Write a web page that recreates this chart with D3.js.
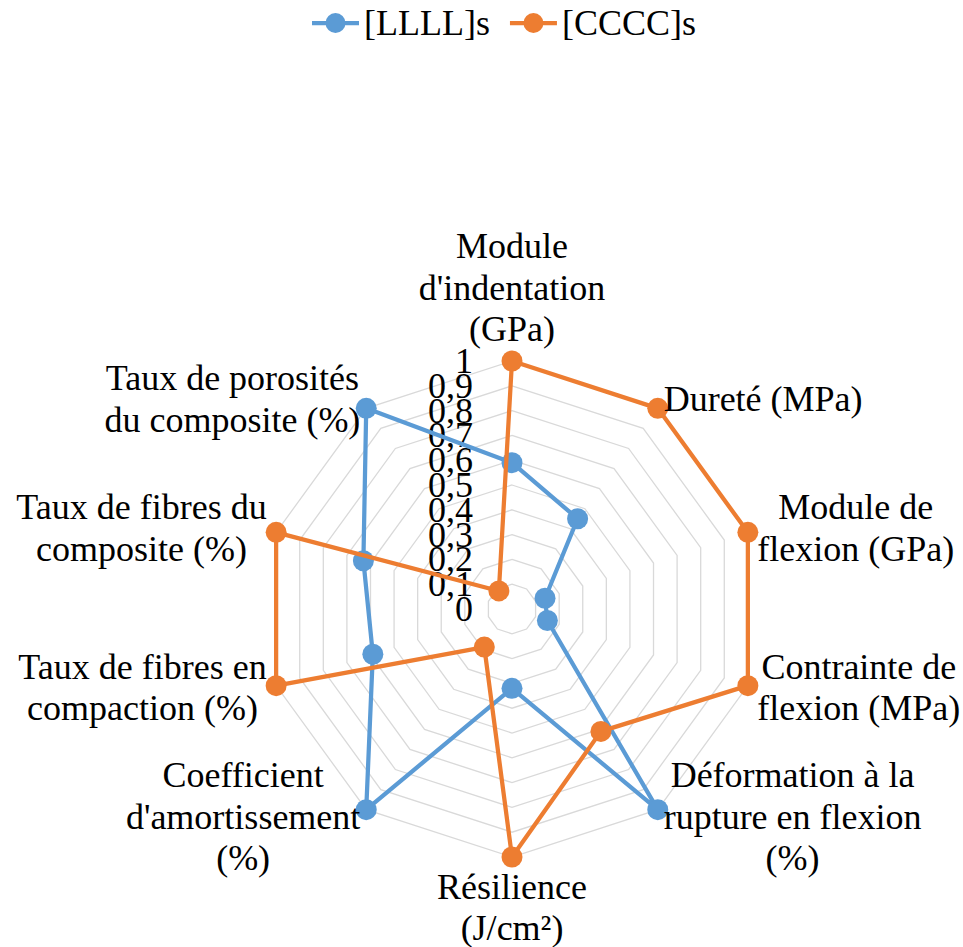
<!DOCTYPE html>
<html>
<head>
<meta charset="utf-8">
<script src="https://cdn.jsdelivr.net/npm/d3@7"></script>
<style>
  html, body { margin: 0; padding: 0; background: #ffffff; }
  svg { display: block; }
</style>
</head>
<body>
<svg id="chart" width="963" height="947"></svg>
<script>
// Axis names (one entry per spoke, lines separated by "\n")
const categories = [
  "Module\nd'indentation\n(GPa)",
  "Dureté (MPa)",
  "Module de\nflexion (GPa)",
  "Contrainte de\nflexion (MPa)",
  "Déformation à la\nrupture en flexion\n(%)",
  "Résilience\n(J/cm²)",
  "Coefficient\nd'amortissement\n(%)",
  "Taux de fibres en\ncompaction (%)",
  "Taux de fibres du\ncomposite (%)",
  "Taux de porosités\ndu composite (%)"
];

// Normalised property values for each laminate
const seriesNames = ["[LLLL]s", "[CCCC]s"];
const valuesLLLL = [0.59, 0.45, 0.14, 0.15, 1.0, 0.32, 1.0, 0.59, 0.63, 1.0];
const valuesCCCC = [1.0, 1.0, 1.0, 1.0, 0.61, 1.0, 0.19, 1.0, 1.0, 0.09];
const seriesColors = ["#5b9bd5", "#ed7d31"];

// Radial axis ticks
const tickValues = [0, 0.1, 0.2, 0.3, 0.4, 0.5, 0.6, 0.7, 0.8, 0.9, 1];
const tickLabels = ["0", "0,1", "0,2", "0,3", "0,4", "0,5", "0,6", "0,7", "0,8", "0,9", "1"];

const FONT_FAMILY = "'Liberation Serif'";

const svg = d3.select("#chart");
const W = 963, H = 947;
svg.append("rect").attr("width", W).attr("height", H).attr("fill", "#fff");

const cx = 512, cy = 609, R = 248;
const FONT = 36, LH = 41.4, ASC = 31.5;

const n = categories.length;
const angle = d3.scaleLinear().domain([0, n]).range([0, 2 * Math.PI]);
const radius = d3.scaleLinear().domain([0, 1]).range([0, R]);

const g = svg.append("g").attr("transform", `translate(${cx},${cy})`);

// Concentric decagon gridlines
const ringLine = d3.lineRadial()
  .angle((d, i) => angle(i))
  .radius(d => radius(d))
  .curve(d3.curveLinearClosed);

g.append("g").selectAll("path")
  .data(tickValues.filter(v => v > 0))
  .join("path")
  .attr("d", v => ringLine(d3.range(n).map(() => v)))
  .attr("fill", "none")
  .attr("stroke", "#d9d9d9")
  .attr("stroke-width", 1.3);

// Radial value labels along the top spoke
g.append("g").selectAll("text")
  .data(tickValues)
  .join("text")
  .attr("x", -39)
  .attr("y", v => -radius(v) + 12)
  .attr("text-anchor", "end")
  .attr("font-family", FONT_FAMILY)
  .attr("font-size", FONT)
  .attr("fill", "#000")
  .text((v, i) => tickLabels[i]);

// Series: polygon outline + markers
const seriesLine = d3.lineRadial()
  .angle((d, i) => angle(i))
  .radius(d => radius(d))
  .curve(d3.curveLinearClosed);

[valuesLLLL, valuesCCCC].forEach((vals, s) => {
  const sg = g.append("g");
  sg.append("path")
    .attr("d", seriesLine(vals))
    .attr("fill", "none")
    .attr("stroke", seriesColors[s])
    .attr("stroke-width", 4.25)
    .attr("stroke-linejoin", "round");
  sg.selectAll("circle")
    .data(vals)
    .join("circle")
    .attr("cx", (d, i) => radius(d) * Math.sin(angle(i)))
    .attr("cy", (d, i) => -radius(d) * Math.cos(angle(i)))
    .attr("r", 10.5)
    .attr("fill", seriesColors[s]);
});

// Category labels around the web
const labelG = g.append("g");
categories.forEach((label, i) => {
  const lines = label.split("\n");
  const a = angle(i);
  const sx = Math.sin(a), sy = -Math.cos(a);
  const ax = (R + 10) * sx, ay = (R + 10) * sy;
  const blockH = lines.length * LH;
  let top;
  if (Math.abs(sx) < 0.01) {
    top = sy < 0 ? ay - blockH : ay;
  } else {
    top = ay - blockH / 2;
  }
  const t = labelG.append("text")
    .attr("font-family", FONT_FAMILY)
    .attr("font-size", FONT)
    .attr("fill", "#000")
    .attr("text-anchor", "middle");
  lines.forEach((ln, k) => {
    t.append("tspan").attr("x", 0).attr("y", top + ASC + k * LH).text(ln);
  });
  const bw = t.node().getBBox().width;
  let x = ax;
  if (sx > 0.01) x = ax + bw / 2;
  else if (sx < -0.01) x = ax - bw / 2;
  t.selectAll("tspan").attr("x", x);
});

// Legend
const legend = svg.append("g");
const legendY = 23;
let lx = 0;
seriesNames.forEach((name, s) => {
  const it = legend.append("g");
  it.append("line")
    .attr("x1", 0).attr("x2", 47)
    .attr("y1", legendY).attr("y2", legendY)
    .attr("stroke", seriesColors[s]).attr("stroke-width", 4.25);
  it.append("circle")
    .attr("cx", 23.5).attr("cy", legendY).attr("r", 10)
    .attr("fill", seriesColors[s]);
  const tx = it.append("text")
    .attr("x", 52).attr("y", legendY + 12)
    .attr("font-family", FONT_FAMILY)
    .attr("font-size", FONT)
    .attr("fill", "#000")
    .text(name);
  const w = 52 + tx.node().getComputedTextLength();
  it.attr("transform", `translate(${lx},0)`);
  lx += w + 20;
});
const totalW = lx - 20;
legend.attr("transform", `translate(${504 - totalW / 2},0)`);
</script>
</body>
</html>
